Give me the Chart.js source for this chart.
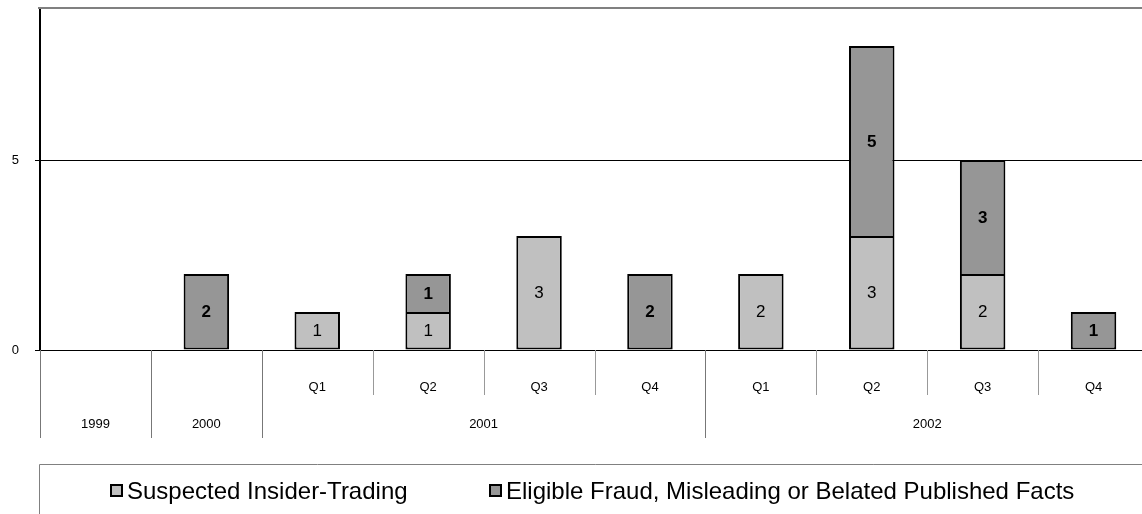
<!DOCTYPE html>
<html>
<head>
<meta charset="utf-8">
<script src="https://cdn.jsdelivr.net/npm/chart.js@4/dist/chart.umd.min.js"></script>
<style>
  html, body { margin: 0; padding: 0; background: #fff; overflow: hidden; width: 1142px; height: 514px; }
  #wrap { position: absolute; left: 0; top: 0; width: 1150px; height: 514px; }
</style>
</head>
<body>
<div id="wrap"><canvas id="c" width="1150" height="514"></canvas></div>
<script>
// ---- data ----
const quarterLabels = ['', '', 'Q1', 'Q2', 'Q3', 'Q4', 'Q1', 'Q2', 'Q3', 'Q4'];
const yearLabels = ['1999', '2000', '2001', '2001', '2001', '2001', '2002', '2002', '2002', '2002'];
const insiderTrading = [0, 0, 1, 1, 3, 0, 2, 3, 2, 0];
const fraudFacts = [0, 2, 0, 1, 0, 2, 0, 5, 3, 1];
const yTicks = [0, 5];
const seriesNames = ['Suspected Insider-Trading', 'Eligible Fraud, Misleading or Belated Published Facts'];

const FONT = '"Liberation Sans", Arial, sans-serif';
const LIGHT = '#C0C0C0';
const DARK = '#969696';

const labels = quarterLabels.map((q, i) => (yearLabels[i] + ' ' + q).trim());
const toBar = v => (v === 0 ? null : v);

const decorPlugin = {
  id: 'decor',
  afterDraw(chart) {
    const ctx = chart.ctx;
    const area = chart.chartArea;
    const xs = chart.scales.x;
    const n = labels.length;
    const half = (xs.getPixelForValue(1) - xs.getPixelForValue(0)) / 2;
    const leftEdge = i => xs.getPixelForValue(i) - half;
    ctx.save();
    // top border
    ctx.strokeStyle = '#808080';
    ctx.lineWidth = 2;
    ctx.beginPath();
    ctx.moveTo(area.left - 2, area.top);
    ctx.lineTo(chart.width, area.top);
    ctx.stroke();

    // category separators
    const zeroY = chart.scales.y.getPixelForValue(0);
    ctx.lineWidth = 1;
    for (let i = 0; i <= n; i++) {
      const x = Math.round(i < n ? leftEdge(i) : leftEdge(n - 1) + 2 * half) + 0.5;
      const newGroup = i === 0 || i === n || yearLabels[i] !== yearLabels[i - 1];
      ctx.strokeStyle = newGroup ? '#777' : '#999';
      ctx.beginPath();
      ctx.moveTo(x, zeroY);
      ctx.lineTo(x, newGroup ? zeroY + 88 : zeroY + 45);
      ctx.stroke();
    }

    // category labels
    ctx.fillStyle = '#000';
    ctx.font = '13px ' + FONT;
    ctx.textAlign = 'center';
    ctx.textBaseline = 'middle';
    for (let i = 0; i < n; i++) {
      if (quarterLabels[i]) ctx.fillText(quarterLabels[i], xs.getPixelForValue(i), zeroY + 37);
    }
    let s = 0;
    for (let i = 1; i <= n; i++) {
      if (i === n || yearLabels[i] !== yearLabels[s]) {
        const cx = (leftEdge(s) + leftEdge(i - 1) + 2 * half) / 2;
        ctx.fillText(yearLabels[s], cx, zeroY + 74);
        s = i;
      }
    }

    // legend box
    ctx.strokeStyle = '#808080';
    ctx.lineWidth = 1;
    ctx.beginPath();
    ctx.moveTo(39.5, 520);
    ctx.lineTo(39.5, 464.5);
    ctx.lineTo(chart.width + 2, 464.5);
    ctx.stroke();

    const items = [
      { x: 110, color: LIGHT, text: seriesNames[0] },
      { x: 489, color: DARK, text: seriesNames[1] }
    ];
    ctx.font = '24px ' + FONT;
    ctx.textAlign = 'left';
    ctx.textBaseline = 'alphabetic';
    items.forEach(it => {
      ctx.fillStyle = it.color;
      ctx.fillRect(it.x, 484, 13, 13);
      ctx.strokeStyle = '#000';
      ctx.lineWidth = 2;
      ctx.strokeRect(it.x + 1, 485, 11, 11);
      ctx.fillStyle = '#000';
      ctx.fillText(it.text, it.x + 17, 499);
    });

    // data labels
    ctx.textAlign = 'center';
    ctx.textBaseline = 'middle';
    chart.data.datasets.forEach((ds, di) => {
      const meta = chart.getDatasetMeta(di);
      ctx.font = (di === 1 ? 'bold ' : '') + '17px ' + FONT;
      meta.data.forEach((el, i) => {
        const v = ds.data[i];
        if (v == null) return;
        ctx.fillText(String(v), el.x, (el.y + el.base) / 2 + 1);
      });
    });
    ctx.restore();
  }
};

new Chart(document.getElementById('c'), {
  type: 'bar',
  data: {
    labels: labels,
    datasets: [
      {
        label: seriesNames[0],
        data: insiderTrading.map(toBar),
        backgroundColor: LIGHT,
        borderColor: '#000',
        borderWidth: 2,
        borderSkipped: false,
        categoryPercentage: 1,
        barPercentage: 0.41
      },
      {
        label: seriesNames[1],
        data: fraudFacts.map(toBar),
        backgroundColor: DARK,
        borderColor: '#000',
        borderWidth: 2,
        borderSkipped: c => (insiderTrading[c.dataIndex] > 0 ? 'start' : false),
        categoryPercentage: 1,
        barPercentage: 0.41
      }
    ]
  },
  options: {
    responsive: false,
    animation: false,
    layout: { padding: { top: 8, right: 1, bottom: 164, left: 0 } },
    plugins: { legend: { display: false }, tooltip: { enabled: false } },
    scales: {
      x: {
        stacked: true,
        display: false
      },
      y: {
        stacked: true,
        min: 0,
        max: 9,
        afterFit(scale) { scale.width = 40; scale.paddingTop = 0; scale.paddingBottom = 0; },
        afterBuildTicks(scale) { scale.ticks = yTicks.map(v => ({ value: v })); },
        border: { display: true, color: '#000', width: 2 },
        grid: { color: '#000', lineWidth: 1, tickLength: 5, drawTicks: true },
        ticks: { color: '#000', font: { family: FONT, size: 13 }, padding: 16 }
      }
    }
  },
  plugins: [decorPlugin]
});
</script>
</body>
</html>
